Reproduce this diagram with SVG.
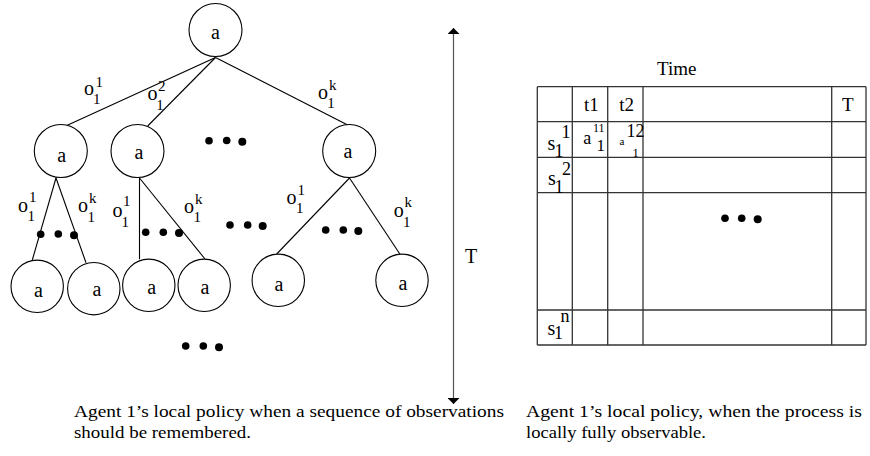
<svg xmlns="http://www.w3.org/2000/svg" width="870" height="456" viewBox="0 0 870 456">
<defs>
<style>
text{font-family:"Liberation Serif",Tinos,"Times New Roman",Times,"Nimbus Roman",serif;fill:#000}
.n circle{fill:#fff;stroke:#000;stroke-width:1.1}
.a{font-size:20px;text-anchor:middle}
.o{font-size:20px}
.s{font-size:15px}
.e line{stroke:#000;stroke-width:1.1}
.g line{stroke:#333;stroke-width:1.3}
.d circle{fill:#000}
.cap{font-size:17.5px}
</style>
<marker id="ah" viewBox="0 0 6 12" refX="6" refY="6" markerWidth="6" markerHeight="12" markerUnits="userSpaceOnUse" orient="auto-start-reverse">
<path d="M0,0 L6,6 L0,12 Z" fill="#000"/>
</marker>
</defs>
<rect width="870" height="456" fill="#fff"/>

<g id="connectors" class="e">
<line x1="215.5" y1="57.5" x2="65.7" y2="126"/>
<line x1="215.5" y1="57.5" x2="147.7" y2="126"/>
<line x1="215.5" y1="57.5" x2="347.7" y2="125"/>
<line x1="56" y1="178" x2="32.3" y2="260"/>
<line x1="56" y1="178" x2="86" y2="262.7"/>
<line x1="139.5" y1="178" x2="139.5" y2="259.3"/>
<line x1="139.5" y1="178" x2="205" y2="259"/>
<line x1="349.5" y1="178" x2="276.7" y2="254"/>
<line x1="349.5" y1="178" x2="400" y2="254.3"/>
</g>

<g id="root" class="n"><circle cx="215.5" cy="30" r="26.5"/><text class="a" x="215.5" y="39">a</text></g>
<g id="n1" class="n"><circle cx="60.8" cy="151" r="26.5"/><text class="a" x="61.8" y="161.5">a</text></g>
<g id="n2" class="n"><circle cx="137.5" cy="151" r="26.5"/><text class="a" x="139" y="158.5">a</text></g>
<g id="n3" class="n"><circle cx="349.2" cy="151" r="26.5"/><text class="a" x="348" y="157.5">a</text></g>
<g id="n11" class="n"><circle cx="37.2" cy="286.3" r="26.2"/><text class="a" x="38.5" y="296.5">a</text></g>
<g id="n12" class="n"><circle cx="93.8" cy="288.7" r="26.2"/><text class="a" x="97" y="296">a</text></g>
<g id="n21" class="n"><circle cx="148.8" cy="285.3" r="26.2"/><text class="a" x="151.7" y="294.3">a</text></g>
<g id="n22" class="n"><circle cx="204.2" cy="285.3" r="26.2"/><text class="a" x="205" y="294.3">a</text></g>
<g id="n31" class="n"><circle cx="278.3" cy="280.3" r="26.2"/><text class="a" x="279" y="291">a</text></g>
<g id="n32" class="n"><circle cx="402" cy="280.3" r="26.2"/><text class="a" x="403" y="290">a</text></g>

<g id="edge-labels">
<text class="o" x="84" y="95">o</text><text class="s" x="95.5" y="87.3">1</text><text class="s" x="93" y="104">1</text>
<text class="o" x="147.5" y="100">o</text><text class="s" x="158" y="90.7">2</text><text class="s" x="156.3" y="110">1</text>
<text class="o" x="318" y="99">o</text><text class="s" x="329" y="90">k</text><text class="s" x="327.3" y="108.3">1</text>

<text class="o" x="18" y="211.7">o</text><text class="s" x="29" y="201.7">1</text><text class="s" x="27.5" y="220.7">1</text>
<text class="o" x="78" y="211.7">o</text><text class="s" x="89" y="202.7">k</text><text class="s" x="87.5" y="221.7">1</text>
<text class="o" x="112.5" y="216.7">o</text><text class="s" x="123" y="206">1</text><text class="s" x="121.5" y="226.7">1</text>
<text class="o" x="184" y="213.3">o</text><text class="s" x="195" y="204">k</text><text class="s" x="193.5" y="222.3">1</text>
<text class="o" x="286.5" y="204">o</text><text class="s" x="297.5" y="195">1</text><text class="s" x="296" y="213.3">1</text>
<text class="o" x="393.8" y="216.7">o</text><text class="s" x="404.5" y="207.3">k</text><text class="s" x="403" y="226.7">1</text>
</g>

<g id="ellipses" class="d">
<circle cx="209" cy="140.7" r="3.8"/><circle cx="226.7" cy="140.5" r="3.8"/><circle cx="242.3" cy="141.7" r="4"/>
<circle cx="40.7" cy="234.3" r="3.8"/><circle cx="58.3" cy="234" r="3.8"/><circle cx="74" cy="235.3" r="4"/>
<circle cx="145.7" cy="232.3" r="3.8"/><circle cx="163.3" cy="232.3" r="3.8"/><circle cx="179" cy="233" r="4"/>
<circle cx="230" cy="225" r="3.8"/><circle cx="247.7" cy="225" r="3.8"/><circle cx="262.7" cy="226" r="4"/>
<circle cx="325.7" cy="230" r="3.8"/><circle cx="343.3" cy="230" r="3.8"/><circle cx="358.3" cy="231" r="4"/>
<circle cx="185.7" cy="346" r="3.8"/><circle cx="203.3" cy="346" r="3.8"/><circle cx="219" cy="347.3" r="4"/>
<circle cx="725" cy="218.3" r="3.8"/><circle cx="741.7" cy="218.3" r="3.8"/><circle cx="757.7" cy="219.3" r="4"/>
</g>

<g id="time-axis">
<line x1="453.5" y1="28" x2="453.5" y2="404" stroke="#555" stroke-width="1.2" marker-start="url(#ah)" marker-end="url(#ah)"/>
<text x="465" y="262.7" style="font-size:20px">T</text>
</g>

<g id="table">
<text x="676.7" y="75" style="font-size:19px;text-anchor:middle">Time</text>
<g class="g">
<line x1="537.3" y1="86.7" x2="866" y2="86.7"/>
<line x1="537.3" y1="121.7" x2="866" y2="121.7"/>
<line x1="537.3" y1="157.3" x2="866" y2="157.3"/>
<line x1="537.3" y1="192.7" x2="866" y2="192.7"/>
<line x1="537.3" y1="310" x2="866" y2="310"/>
<line x1="537.3" y1="345" x2="866" y2="345"/>
<line x1="537.3" y1="86.7" x2="537.3" y2="345"/>
<line x1="572.3" y1="86.7" x2="572.3" y2="345"/>
<line x1="607.7" y1="86.7" x2="607.7" y2="345"/>
<line x1="643" y1="86.7" x2="643" y2="345"/>
<line x1="831.7" y1="86.7" x2="831.7" y2="345"/>
<line x1="866" y1="86.7" x2="866" y2="345"/>
</g>
<text x="584" y="110.7" style="font-size:19px">t1</text>
<text x="619.3" y="110.7" style="font-size:19px">t2</text>
<text x="842" y="110.7" style="font-size:19px">T</text>

<text x="547.5" y="150" style="font-size:20px">s</text><text x="561.5" y="138.3" style="font-size:18px">1</text><text x="554.5" y="156.7" style="font-size:18px">1</text>
<text x="583.3" y="144.3" style="font-size:18px">a</text><text x="593" y="131.5" style="font-size:12px">11</text><text x="596.5" y="151" style="font-size:17px">1</text>
<text x="619.5" y="145" style="font-size:11px">a</text><text x="626.5" y="137.3" style="font-size:18px">12</text><text x="632.5" y="156.7" style="font-size:12.5px">1</text>

<text x="548" y="185" style="font-size:20px">s</text><text x="562" y="175" style="font-size:18px">2</text><text x="554.5" y="192.7" style="font-size:18px">1</text>

<text x="547.5" y="335" style="font-size:20px">s</text><text x="560.5" y="321.7" style="font-size:18px">n</text><text x="554" y="339" style="font-size:18px">1</text>
</g>

<g id="captions">
<text class="cap" x="74" y="417" textLength="430" lengthAdjust="spacingAndGlyphs">Agent 1’s local policy when a sequence of observations</text>
<text class="cap" x="74" y="438" textLength="177" lengthAdjust="spacingAndGlyphs">should be remembered.</text>
<text class="cap" x="526" y="417" textLength="336" lengthAdjust="spacingAndGlyphs">Agent 1’s local policy, when the process is</text>
<text class="cap" x="526" y="438" textLength="180" lengthAdjust="spacingAndGlyphs">locally fully observable.</text>
</g>
</svg>
